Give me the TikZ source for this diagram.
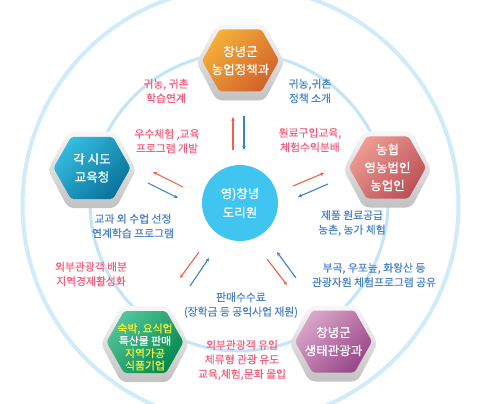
\documentclass[tikz,border=0pt]{standalone}
\usepackage{fontspec}
\setmainfont{Noto Sans CJK KR}
\newfontfamily\hexfont{Noto Sans CJK KR}[FakeBold=0.9]
\newfontfamily\lblfont{Noto Sans CJK KR}[FakeBold=0.35]
\usetikzlibrary{arrows.meta}
\definecolor{ringA}{HTML}{D0ECF9}
\definecolor{ringB}{HTML}{C2E5F7}
\definecolor{pinktxt}{HTML}{F2607F}
\definecolor{bluetxt}{HTML}{4B84C6}
\definecolor{arrred}{HTML}{EF6248}
\definecolor{arrblue}{HTML}{3A82C8}
\definecolor{midcirc}{HTML}{40C4F0}
\definecolor{orA}{HTML}{F4B03A}\definecolor{orB}{HTML}{D2622A}
\definecolor{blA}{HTML}{35BCDF}\definecolor{blB}{HTML}{08729A}
\definecolor{rdA}{HTML}{EE9C94}\definecolor{rdB}{HTML}{BC5056}
\definecolor{grA}{HTML}{52C49A}\definecolor{grB}{HTML}{05884C}
\definecolor{puA}{HTML}{DAA6CA}\definecolor{puB}{HTML}{984689}
\definecolor{yel}{HTML}{F2F03A}
\tikzset{
  hexborder/.style={top color=black!3, bottom color=black!24, rounded corners=6pt},
  hextext/.style={align=center, text=white, inner sep=0pt, font=\hexfont\fontsize{12.5}{18}\selectfont},
  smalltext/.style={font=\hexfont\fontsize{10.8}{12.4}\selectfont, yshift=-5pt},
  lbl/.style={align=center, inner sep=0pt, font=\lblfont\fontsize{10.8}{14.5}\selectfont},
  redarr/.style={draw=arrred, line width=1.1pt, -{Stealth[length=4pt,width=3.6pt]}},
  bluearr/.style={draw=arrblue, line width=1.1pt, -{Stealth[length=4pt,width=3.6pt]}}
}
% #1 node options (name), #2 x, #3 y, #4 light colour, #5 dark colour, #6 text
\newcommand{\hexa}[6]{%
  \begin{scope}[shift={(#2,#3)}]
    \path[hexborder] (-44,0) -- (-24,-38) -- (24,-38) -- (44,0) -- (24,38) -- (-24,38) -- cycle;
    \path[top color=#4, bottom color=#5, shading angle=45, rounded corners=3pt]
      (-38.5,-2) -- (-21,-33) -- (21,-33) -- (38.5,-2) -- (21,29) -- (-21,29) -- cycle;
    \node[hextext, #1] at (0,-2) {#6};
  \end{scope}}
\begin{document}
\begin{tikzpicture}[x=1pt,y=-1pt]
\useasboundingbox (0,0) rectangle (480,404);
\fill[white] (0,0) rectangle (480,404);
\draw[ringA, line width=4pt] (240.5,205) circle[radius=218pt];
\draw[ringB, line width=3pt] (239,202) circle[radius=149pt];

\hexa{name=agri}{240.5}{62.5}{orA}{orB}{창녕군\\농업정책과}
\hexa{name=edu}{92}{170}{blA}{blB}{각 시도\\교육청}
\hexa{name=farm}{387.5}{169.5}{rdA}{rdB}{농협\\영농법인\\농업인}
\hexa{name=food, smalltext}{145}{344}{grA}{grB}{\textcolor{yel}{숙박, 요식업}\\특산물 판매\\\textcolor{yel}{지역가공}\\\textcolor{yel}{식품기업}}
\hexa{name=tour}{333.5}{343.5}{puA}{puB}{창녕군\\생태관광과}

\node[circle, fill=midcirc, minimum size=76pt, inner sep=0pt, text=white, align=center,
      font=\hexfont\fontsize{12.5}{19}\selectfont] (dori) at (240,203) {영)창녕\\도리원};

\node[lbl, text=pinktxt] (l1) at (166,91) {귀농, 귀촌\\학습연계};
\node[lbl, text=bluetxt] (l2) at (310,91) {귀농,귀촌\\정책 소개};
\node[lbl, text=pinktxt] (l3) at (167,141) {우수체험 ,교육\\프로그램 개발};
\node[lbl, text=pinktxt] (l4) at (310,140) {원료구입교육,\\체험수익분배};
\node[lbl, text=bluetxt] (l5) at (133,226) {교과 외 수업 선정\\연계학습 프로그램};
\node[lbl, text=bluetxt] (l6) at (352,223) {제품 원료공급\\농촌, 농가 체험};
\node[lbl, text=pinktxt] (l7) at (91,274) {외부관광객 배분\\지역경제활성화};
\node[lbl, text=bluetxt] (l8) at (374,275) {부곡, 우포늪, 화왕산 등\\관광자원 체험프로그램 공유};
\node[lbl, text=bluetxt] (l9) at (241,305) {판매수수료\\(장학금 등 공익사업 재원)};
\node[lbl, text=pinktxt] (l10) at (242,360) {외부관광객 유입\\체류형 관광 유도\\교육,체험,문화 몰입};

\draw[redarr] (233,150) coordinate (r1s) -- (233,117) coordinate (r1e);
\draw[bluearr] (244,116) coordinate (b1s) -- (244,150) coordinate (b1e);
\draw[redarr] (183,187) coordinate (r2s) -- (153,172) coordinate (r2e);
\draw[bluearr] (148,183) coordinate (b2s) -- (178,198) coordinate (b2e);
\draw[redarr] (293,186) coordinate (r3s) -- (324,173) coordinate (r3e);
\draw[bluearr] (328,184) coordinate (b3s) -- (298,197) coordinate (b3e);
\draw[redarr] (199,252) coordinate (r4s) -- (180,278) coordinate (r4e);
\draw[bluearr] (190,286) coordinate (b4s) -- (209,258) coordinate (b4e);
\draw[redarr] (267,259) coordinate (r5s) -- (287,285) coordinate (r5e);
\draw[bluearr] (296,278) coordinate (b5s) -- (277,252) coordinate (b5e);
\end{tikzpicture}
\end{document}
